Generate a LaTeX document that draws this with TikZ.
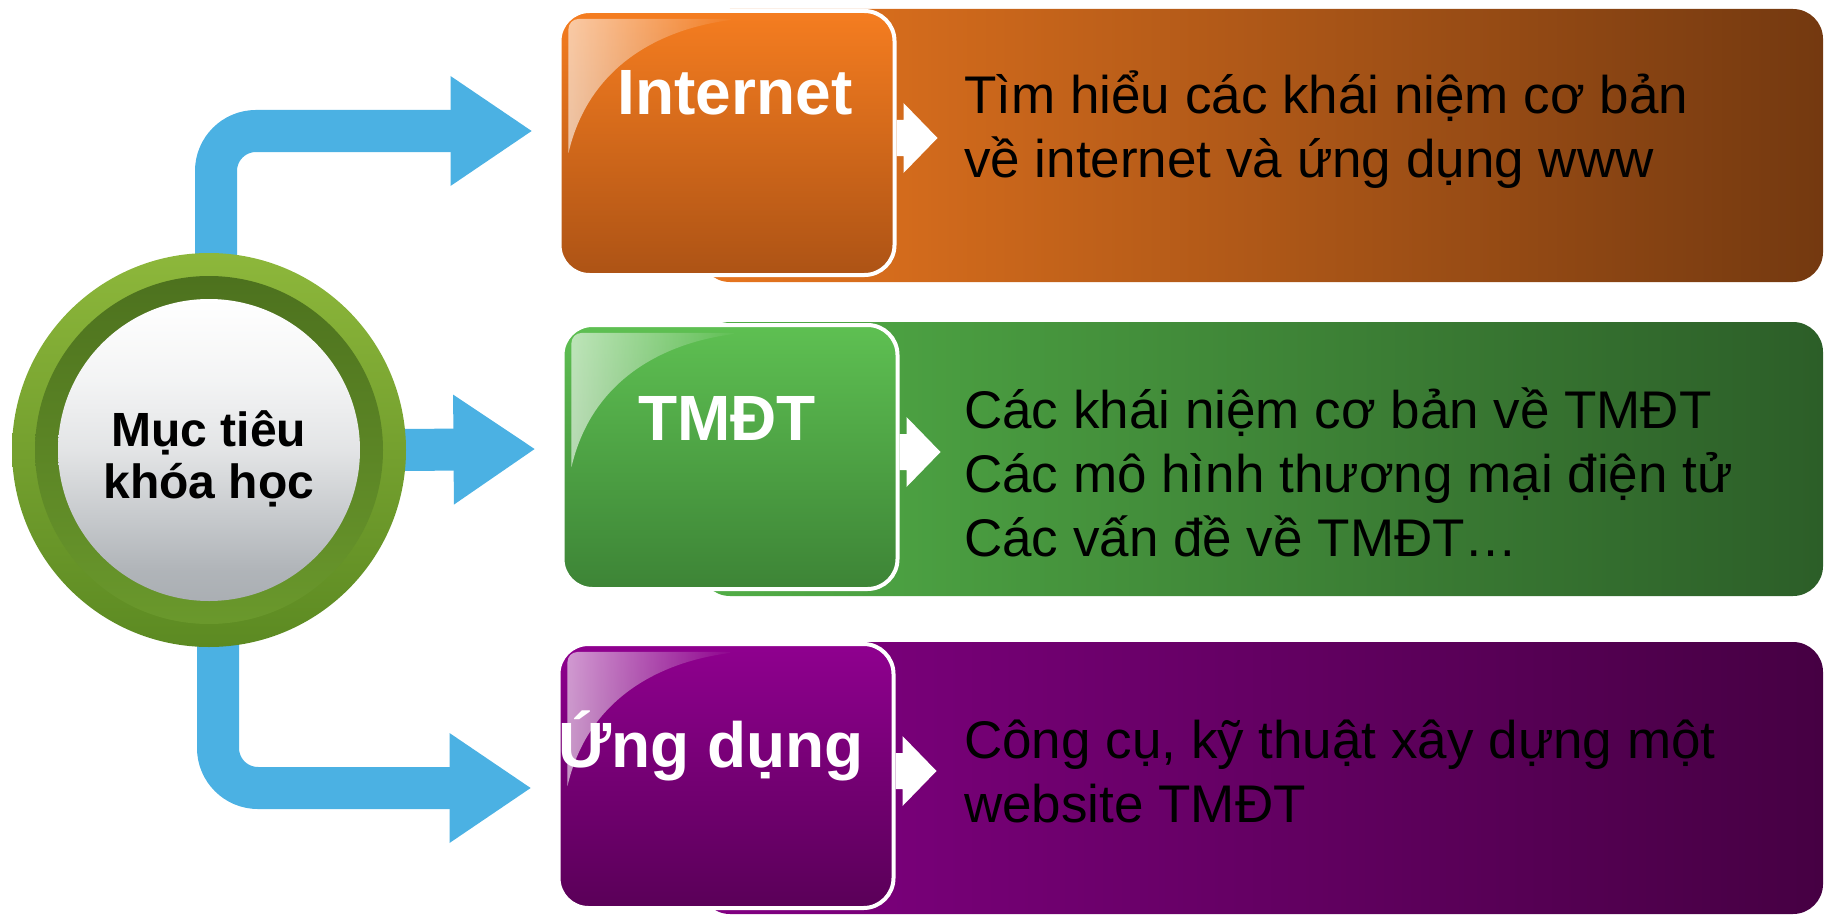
\documentclass[tikz,border=0pt]{standalone}
\usepackage{fontspec}
\setmainfont{Liberation Sans}
\usetikzlibrary{arrows.meta, calc, backgrounds, fadings}
\usepackage{xcolor}
\definecolor{flowblue}{HTML}{4BB1E3}
\definecolor{orangetop}{HTML}{F57D20}
\definecolor{orangebot}{HTML}{AD5315}
\definecolor{orangeleft}{HTML}{E8761F}
\definecolor{orangeright}{HTML}{743910}
\definecolor{greentop}{HTML}{5EC052}
\definecolor{greenbot}{HTML}{3D8436}
\definecolor{greenleft}{HTML}{52AE47}
\definecolor{greenright}{HTML}{2C5E28}
\definecolor{purpletop}{HTML}{8F008F}
\definecolor{purplebot}{HTML}{5A0058}
\definecolor{purpleleft}{HTML}{820083}
\definecolor{purpleright}{HTML}{460043}
\definecolor{ringlight}{HTML}{8DB73B}
\definecolor{ringdark}{HTML}{5C8A22}
\definecolor{bandtop}{HTML}{4B6F1D}
\definecolor{bandbot}{HTML}{6C9B2D}
\definecolor{spheregrey}{HTML}{8E949A}
\pgfdeclareverticalshading{sphereshade}{100bp}{color(0bp)=(spheregrey); color(30bp)=(spheregrey!70!white); color(50bp)=(spheregrey!25!white); color(62bp)=(spheregrey!10!white); color(75bp)=(white); color(100bp)=(white)}
\tikzfading[name=glossfade, left color=transparent!40, right color=transparent!100]
\tikzstyle{goal} = [circle, 
minimum size=394pt, 
inner sep=0pt, 
top color=ringlight, 
bottom color=ringdark,
path picture={
  \shade[top color=bandtop, bottom color=bandbot] (path picture bounding box.center) circle[radius=174pt];
  \shade[shading=sphereshade] (path picture bounding box.center) circle[radius=151pt];
}]
\tikzstyle{goaltext} = [font=\fontsize{48}{52}\selectfont\bfseries, 
align=center, 
inner sep=0pt]
\tikzstyle{headbox} = [rectangle, rounded corners=30pt, 
minimum width=335pt, 
minimum height=264pt, 
draw=white, 
line width=4pt]
\tikzstyle{infobox} = [rectangle, rounded corners=30pt, 
minimum width=1123pt, 
inner sep=0pt]
\tikzstyle{headtext} = [text=white, 
font=\fontsize{64}{70}\selectfont\bfseries, 
inner sep=0pt, 
anchor=base]
\tikzstyle{infotext} = [text=black, 
font=\fontsize{53}{64}\selectfont, 
align=left, 
inner sep=0pt, 
anchor=base west]
\tikzstyle{flow} = [draw=flowblue, line width=42pt, rounded corners=40pt, -{Triangle[length=82pt, width=104pt]}]
\newcommand{\headgloss}[1]{%
  \begin{scope}[shift={(#1.north west)}]
    \fill[white, path fading=glossfade] (11,144) [rounded corners=10pt] -- (11,10) -- (180,10) [sharp corners] .. controls (95,22) and (30,62) .. (11,144) -- cycle;
  \end{scope}}
\newcommand{\headpointer}[1]{%
  \fill[white] ([shift={(0,-23)}]#1.east) -- ++(7,0) -- ++(0,-17) -- ++(34,35) -- ++(-34,35) -- ++(0,-17) -- ++(-7,0) -- cycle;}

\begin{document}
\begin{tikzpicture}[x=1pt, y=-1pt]
		\useasboundingbox (0,0) rectangle (1825,915);
		
		% detail panels behind the headers
		\node (internetinfo) [infobox, minimum height=273pt, left color=orangeleft, right color=orangeright] at (1261.5,145.5) {};
		\node (tmdtinfo) [infobox, minimum height=274pt, left color=greenleft, right color=greenright] at (1261.5,459) {};
		\node (ungdunginfo) [infobox, minimum height=272pt, left color=purpleleft, right color=purpleright] at (1261.5,778) {};
		
		% headers
		\node (internet) [headbox, top color=orangetop, bottom color=orangebot] at (727,143) {};
		\node (tmdt) [headbox, top color=greentop, bottom color=greenbot] at (730,457) {};
		\node (ungdung) [headbox, top color=purpletop, bottom color=purplebot] at (726,776) {};
		
		\headgloss{internet}
		\headgloss{tmdt}
		\headgloss{ungdung}
		
		\headpointer{internet}
		\headpointer{tmdt}
		\headpointer{ungdung}
		
		\node (internettitle) [headtext] at (735,114) {Internet};
		\node (tmdttitle) [headtext] at (727,440) {TMĐT};
		\node (ungdungtitle) [headtext] at (711,767) {Ứng dụng};
		
		% base = last line
		\node (internettext) [infotext] at (964,177) {Tìm hiểu các khái niệm cơ bản\\về internet và ứng dụng www};
		\node (tmdttext) [infotext] at (964,556) {Các khái niệm cơ bản về TMĐT\\Các mô hình thương mại điện tử\\Các vấn đề về TMĐT…};
		\node (ungdungtext) [infotext] at (964,822) {Công cụ, kỹ thuật xây dựng một\\website TMĐT};
		
		% centre
		\node (goal) [goal] at (209,450) {};
		\node (goallabel) [goaltext] at ([yshift=-9pt]goal.center) {Mục tiêu\\khóa học};
		
		\begin{scope}[on background layer]
		\draw [flow] ([xshift=7pt,yshift=-8pt]goal.north) |- ($(internet.west)+(-25,-12)$);
		\draw [flow] ([xshift=-6pt]goal.east) -- ($(goal.east -| tmdt.west)+(-25,-1)$);
		\draw [flow] ([xshift=9pt,yshift=8pt]goal.south) |- ($(ungdung.west)+(-25,12)$);
		\end{scope}
		
	\end{tikzpicture}
\end{document}
